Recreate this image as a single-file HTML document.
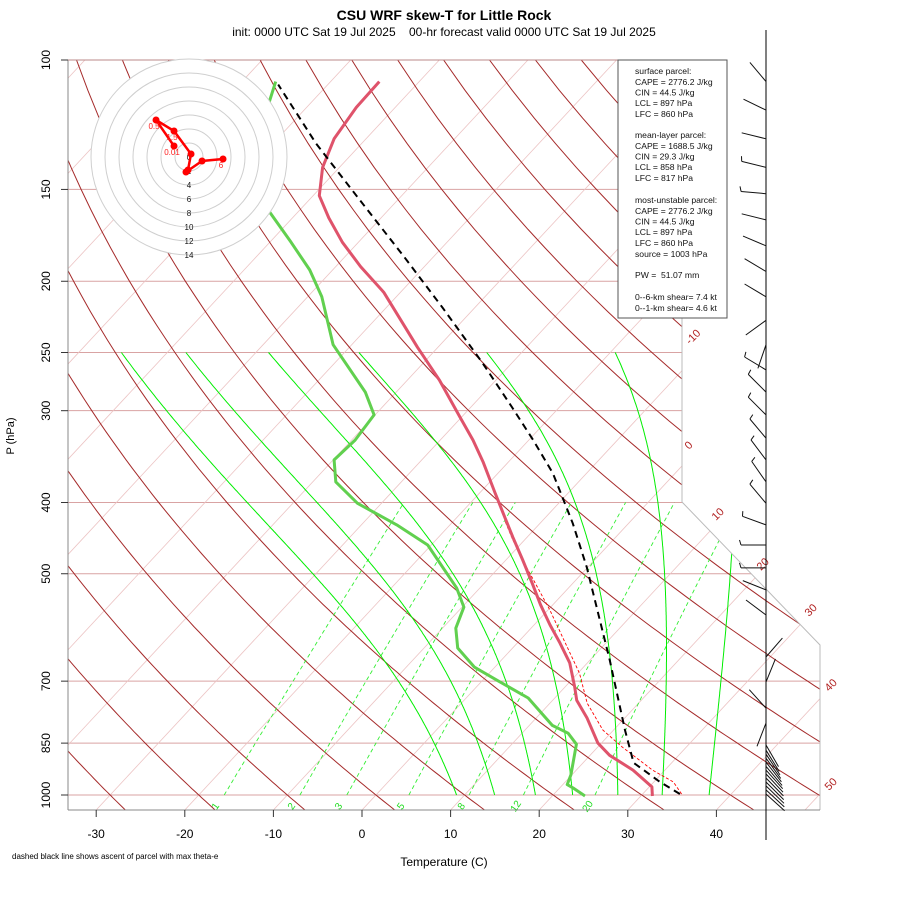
<!DOCTYPE html>
<html><head><meta charset="utf-8"><title>CSU WRF skew-T</title>
<style>
html,body{margin:0;padding:0;background:#fff;}
svg{display:block;font-family:"Liberation Sans",sans-serif;}
</style></head>
<body>
<svg id="chart" width="900" height="900" viewBox="0 0 900 900" xmlns="http://www.w3.org/2000/svg">
<defs><clipPath id="plotclip"><polygon points="68,60 682,60 682,502 820,645 820,810 68,810"/></clipPath></defs>
<text x="444" y="20" text-anchor="middle" font-size="14" font-weight="bold">CSU WRF skew-T for Little Rock</text>
<text x="444" y="36" text-anchor="middle" font-size="12">init: 0000 UTC Sat 19 Jul 2025&#160;&#160;&#160;&#160;00-hr forecast valid 0000 UTC Sat 19 Jul 2025</text>
<g id="grid" clip-path="url(#plotclip)"></g>
<g id="frame"><polyline points="682,60 682,502 820,645 820,810" fill="none" stroke="#bbb" stroke-width="1"/></g>
<g id="labels"></g>
<g id="axes"></g>
<g id="curves"></g>
<g id="hodo"></g>
<g id="barbs"></g>
<g>
<rect x="618" y="60" width="109" height="258" fill="#fff" stroke="#555" stroke-width="1"/>
<g font-size="8.6" fill="#111">
<text x="635" y="74">surface parcel:</text>
<text x="635" y="85">CAPE = 2776.2 J/kg</text>
<text x="635" y="95.5">CIN = 44.5 J/kg</text>
<text x="635" y="106">LCL = 897 hPa</text>
<text x="635" y="117">LFC = 860 hPa</text>
<text x="635" y="138">mean-layer parcel:</text>
<text x="635" y="149">CAPE = 1688.5 J/kg</text>
<text x="635" y="159.5">CIN = 29.3 J/kg</text>
<text x="635" y="170">LCL = 858 hPa</text>
<text x="635" y="181">LFC = 817 hPa</text>
<text x="635" y="203">most-unstable parcel:</text>
<text x="635" y="214">CAPE = 2776.2 J/kg</text>
<text x="635" y="224.5">CIN = 44.5 J/kg</text>
<text x="635" y="235">LCL = 897 hPa</text>
<text x="635" y="246">LFC = 860 hPa</text>
<text x="635" y="257">source = 1003 hPa</text>
<text x="635" y="278">PW =&#160; 51.07 mm</text>
<text x="635" y="300">0--6-km shear= 7.4 kt</text>
<text x="635" y="311">0--1-km shear= 4.6 kt</text>
</g></g>
<text x="14" y="436" font-size="11" text-anchor="middle" transform="rotate(-90 14 436)">P (hPa)</text>
<text x="444" y="866" font-size="12" text-anchor="middle">Temperature (C)</text>
<text x="12" y="859" font-size="8">dashed black line shows ascent of parcel with max theta-e</text>
</svg>
<script>
// ---- data ----
const tempP = [1003,975,925,883,850,785,743,713,661,621,587,551,515,479,446,419,387,352,329,306,273,246,207,191,177,164,153,140,128,116,107];
const tempT = [31.3,30.3,26.4,22.2,19.6,15.7,12.7,11.1,8.0,4.8,1.8,-1.4,-4.6,-8.1,-11.6,-14.6,-18.4,-22.9,-26.3,-30.2,-36.3,-42.3,-51.9,-57.2,-61.8,-65.9,-69.3,-71.9,-73.6,-74.4,-74.5];
const dewP = [1003,978,968,939,853,824,804,738,698,670,631,593,555,523,457,429,401,375,350,329,304,283,244,210,193,177,161,132,114,107];
const dewT = [23.7,21.5,20.5,19.9,17.3,15.2,12.6,7.0,1.6,-2.3,-6.2,-8.5,-9.8,-12.6,-20.4,-26.0,-32.7,-37.4,-39.9,-39.6,-40.1,-43.5,-52.1,-58.4,-62.6,-67.6,-73.2,-81.1,-84.8,-86.2];
const parcelP = [997,960,904,816,655,578,490,427,365,329,297,258,217,185,155,130,108];
const parcelT = [34.2,30.7,25.7,21.3,12.2,6.9,-0.1,-6.3,-13.8,-19.5,-25.3,-33.4,-43.7,-53.4,-64.3,-75.1,-85.6];
const virtP = [997,960,925,861,816,750,683,610,560,490,450,423];
const virtT = [34.4,32.2,28.6,22.8,18.8,14.2,10.2,4.5,0.2,-6.9,-11.3,-14.3];
const isobars = [100,150,200,250,300,400,500,700,850,1000];
const xTicks = [-30,-20,-10,0,10,20,30,40];
const dryThetas = [-30,-20,-10,0,10,20,30,40,50,60,70,80,90,100,110,120,130,140,150,160,170];
const isotherms = [-120,-110,-100,-90,-80,-70,-60,-50,-40,-30,-20,-10,0,10,20,30,40,50];
const moistT1000 = [9.1,13.4,18.0,22.2,27.3,32.3,37.6];
const mixRatios = [1,2,3,5,8,12,20];
const hodoU = [-2.14,-4.71,-2.14,0.29,-0.14,-0.43,1.86,4.86];
const hodoV = [1.57,5.29,3.71,0.43,-1.86,-2.14,-0.57,-0.29];
const hodoLabels = ["0.01","0.5","1.5","","","","","6"];
const hodoRings = [2,4,6,8,10,12,14];
const barbP = [107,117,128,140,152,165,179,194,210,226,244,264,283,304,327,350,375,401,429,457,491,526,569,649,702,762,798,855,869,880,891,902,914,925,936,948,960,972,984,997];
const barbDir = [320,296,284,284,275,284,293,301,301,234,199,301,315,315,320,323,325,320,290,270,270,292,307,41,22,318,201,150,148,146,144,142,140,138,137,136,135,134,133,132];
const barbSpd = [3,3,3,5,5,3,3,3,3,3,3,5,5,5,5,5,5,5,5,5,5,3,3,3,3,3,3,3,3,3,3,3,3,3,3,3,3,3,3,3];

// ---- axis functions ----
const NS='http://www.w3.org/2000/svg';
function yP(p){return 60+(Math.log10(p)-2)*735;}
function xT(T,p){return 362+8.86*T+0.93*(810-yP(p));}
function mk(tag,attrs,parent){const e=document.createElementNS(NS,tag);for(const k in attrs)e.setAttribute(k,attrs[k]);parent.appendChild(e);return e;}
function pathFrom(ps,ts){let d='';for(let i=0;i<ps.length;i++){d+=(i?'L':'M')+xT(ts[i],ps[i]).toFixed(1)+','+yP(ps[i]).toFixed(1);}return d;}
function es(T){return 6.112*Math.exp(17.67*T/(T+243.5));}

const grid=document.getElementById('grid');
isobars.forEach(p=>{
  const l=mk('line',{x1:68,x2:830,y1:yP(p),y2:yP(p),stroke:'#d9a3a3','stroke-width':1},grid);
  
  
});
isotherms.forEach(T=>{
  const l=mk('line',{x1:xT(T,1050),y1:yP(1050),x2:xT(T,100),y2:yP(100),stroke:'#ecc4c4','stroke-width':0.8},grid);
  
  
});
dryThetas.forEach(th=>{
  let d='';
  for(let p=1050;p>=100;p-=10){const T=(th+273.15)*Math.pow(p/1000,0.2857)-273.15;d+=(p===1050?'M':'L')+xT(T,p).toFixed(1)+','+yP(p).toFixed(1);}
  const l=mk('path',{d:d,fill:'none',stroke:'#a52a2a','stroke-width':1},grid);
  
  
});
mixRatios.forEach(w=>{
  let d='';
  for(let p=1000;p>=400;p-=10){const e=w*p/(622+w);const a=Math.log(e/6.112);const T=243.5*a/(17.67-a);d+=(p===1000?'M':'L')+xT(T,p).toFixed(1)+','+yP(p).toFixed(1);}
  const l=mk('path',{d:d,fill:'none',stroke:'#33ee33','stroke-width':0.9,'stroke-dasharray':'4,3'},grid);
  
  
});
function dTdp(T,p){const Tk=T+273.15,e=es(T),rs=0.622*e/(p-e);return 1.065*((287*Tk+2.5e6*rs)/p)/(1005+(2.5e6*2.5e6*rs*0.622)/(287*Tk*Tk));}
moistT1000.forEach(T0=>{
  let T=T0,d='M'+xT(T,1000).toFixed(1)+','+yP(1000).toFixed(1);
  for(let p=1000;p>250;p-=2){T-=dTdp(T,p)*2;d+='L'+xT(T,p-2).toFixed(1)+','+yP(p-2).toFixed(1);}
  const l=mk('path',{d:d,fill:'none',stroke:'#00ee00','stroke-width':1},grid);
  
  
});

const labels=document.getElementById('labels');
const isoLab=[["-10",690,345],["0",689,450],["10",716,521],["20",761,571],["30",809,617],["40",829,692],["50",829,791]];
isoLab.forEach(a=>{
  const t=mk('text',{x:a[1],y:a[2],fill:'#b22222','font-size':11,transform:'rotate(-45 '+a[1]+' '+a[2]+')'},labels);
  t.textContent=a[0];
  
  
});
mixRatios.forEach(w=>{
  const p=1032,e=w*p/(622+w),a=Math.log(e/6.112),T=243.5*a/(17.67-a);
  const x=xT(T,p),y=yP(p)+3;
  const t=mk('text',{x:x,y:y,fill:'#22dd22','font-size':10,'text-anchor':'middle',transform:'rotate(-55 '+x+' '+y+')'},labels);
  t.textContent=String(w);
  
  
});

const axes=document.getElementById('axes');
mk('line',{x1:68,y1:60,x2:68,y2:810,stroke:'#888','stroke-width':1},axes);
mk('line',{x1:68,y1:810,x2:820,y2:810,stroke:'#888','stroke-width':1},axes);
mk('line',{x1:68,y1:60,x2:682,y2:60,stroke:'#b88','stroke-width':1},axes);
isobars.forEach(p=>{
  const y=yP(p);
  mk('line',{x1:61,x2:68,y1:y,y2:y,stroke:'#333','stroke-width':1},axes);
  const t=mk('text',{x:50,y:y,'font-size':12,'text-anchor':'middle',transform:'rotate(-90 50 '+y+')'},axes);
  t.textContent=String(p);
  
  
});
xTicks.forEach(T=>{
  const x=362+8.86*T;
  mk('line',{x1:x,x2:x,y1:810,y2:817,stroke:'#333','stroke-width':1},axes);
  const t=mk('text',{x:x,y:838,'font-size':12,'text-anchor':'middle'},axes);
  t.textContent=String(T);
  
  
});

const curves=document.getElementById('curves');
let c;
c=mk('path',{d:pathFrom(virtP,virtT),fill:'none',stroke:'#ff0000','stroke-width':0.9,'stroke-dasharray':'3,2'},curves);


c=mk('path',{d:pathFrom(tempP,tempT),fill:'none',stroke:'#df536b','stroke-width':3,'stroke-linejoin':'round'},curves);


c=mk('path',{d:pathFrom(dewP,dewT),fill:'none',stroke:'#61d04f','stroke-width':3,'stroke-linejoin':'round'},curves);


c=mk('path',{d:pathFrom(parcelP,parcelT),fill:'none',stroke:'#000','stroke-width':2,'stroke-dasharray':'7,5'},curves);



const hodo=document.getElementById('hodo');
const hx=189,hy=157,hs=7;
mk('circle',{cx:hx,cy:hy,r:14*hs,fill:'#fff',stroke:'none'},hodo);
hodoRings.forEach(r=>{
  const ci=mk('circle',{cx:hx,cy:hy,r:r*hs,fill:'none',stroke:'#cfcfcf','stroke-width':1},hodo);
  
  
});
[0].concat(hodoRings).forEach(r=>{
  const t=mk('text',{x:hx,y:hy+r*hs+3,'font-size':8,'text-anchor':'middle',fill:'#111'},hodo);
  t.textContent=String(r);
  
  
});
let hd='';
hodoU.forEach((u,i)=>{hd+=(i?'L':'M')+(hx+u*hs).toFixed(1)+','+(hy-hodoV[i]*hs).toFixed(1);});
c=mk('path',{d:hd,fill:'none',stroke:'#ff0000','stroke-width':2.5},hodo);


hodoU.forEach((u,i)=>{
  const x=hx+u*hs,y=hy-hodoV[i]*hs;
  const pt=mk('circle',{cx:x,cy:y,r:3.5,fill:'#ff0000'},hodo);
  
  
  if(hodoLabels[i]){
    const t=mk('text',{x:x-2,y:y+9,'font-size':8,'text-anchor':'middle',fill:'#ff2020'},hodo);
    t.textContent=hodoLabels[i];
    
    
  }
});

const barbs=document.getElementById('barbs');
mk('line',{x1:766,y1:30,x2:766,y2:840,stroke:'#000','stroke-width':1},barbs);
barbP.forEach((p,i)=>{
  const y=yP(p),a=barbDir[i]*Math.PI/180,L=25;
  const dx=Math.sin(a),dy=-Math.cos(a);
  const tx=766+dx*L,ty=y+dy*L;
  let d='M766,'+y.toFixed(1)+'L'+tx.toFixed(1)+','+ty.toFixed(1);
  let s=barbSpd[i],pos=0;
  const px=-dy,py=dx;
  while(s>=10){const bx=766+dx*(L-pos),by=y+dy*(L-pos);d+='M'+bx.toFixed(1)+','+by.toFixed(1)+'l'+(px*10+dx*3).toFixed(1)+','+(py*10+dy*3).toFixed(1);s-=10;pos+=4;}
  if(s>=5){const bx=766+dx*(L-pos),by=y+dy*(L-pos);d+='M'+bx.toFixed(1)+','+by.toFixed(1)+'l'+(px*5+dx*1.5).toFixed(1)+','+(py*5+dy*1.5).toFixed(1);}
  const b=mk('path',{d:d,fill:'none',stroke:'#111','stroke-width':1},barbs);
  
  
});
</script>
</body></html>
